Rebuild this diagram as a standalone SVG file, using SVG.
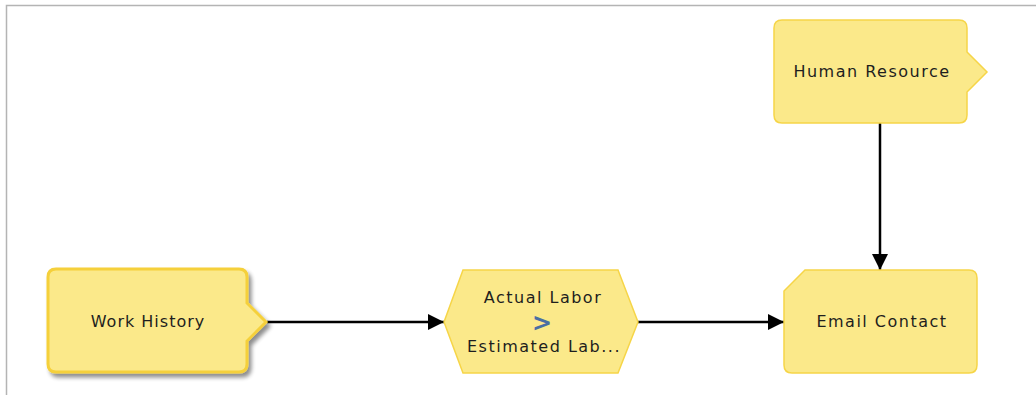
<svg xmlns="http://www.w3.org/2000/svg" width="1036" height="395" viewBox="0 0 1036 395">
<style>
.node{fill:#fbe98a;stroke:#f6d548;stroke-width:1.5}
.sel{stroke-width:3;stroke:#f5d03a}
.lbl{font-family:"DejaVu Sans",Verdana,sans-serif;font-size:16px;letter-spacing:1.5px;fill:#1e1e1e;text-anchor:middle}
.conn{stroke:#000;stroke-width:2.5;fill:none}
</style>
<defs>
<marker id="ah" viewBox="0 0 10 10" refX="10" refY="5" markerWidth="6.5" markerHeight="6.5" orient="auto" markerUnits="strokeWidth">
<path d="M0,0 L10,5 L0,10 z" fill="#000"/>
</marker>
<filter id="sh" x="-10%" y="-10%" width="130%" height="130%">
<feGaussianBlur in="SourceAlpha" stdDeviation="2"/>
<feOffset dx="3" dy="4" result="b"/>
<feComponentTransfer><feFuncA type="linear" slope="0.45"/></feComponentTransfer>
<feMerge><feMergeNode/><feMergeNode in="SourceGraphic"/></feMerge>
</filter>
</defs>
<rect x="0" y="0" width="1036" height="395" fill="#fff"/>
<path d="M6.5,395 V5.5 H1036" fill="none" stroke="#b4b4b4" stroke-width="1.5"/>
<g id="connectors">
<line class="conn" x1="267" y1="322" x2="444" y2="322" marker-end="url(#ah)"/>
<line class="conn" x1="638" y1="322" x2="784" y2="322" marker-end="url(#ah)"/>
<line class="conn" x1="880" y1="123" x2="880" y2="270" marker-end="url(#ah)"/>
</g>
<g id="work-history">
<path class="node sel" filter="url(#sh)" d="M56,269 H239 Q247,269 247,277 V303 L266,322 L247,341 V364 Q247,372 239,372 H56 Q48,372 48,364 V277 Q48,269 56,269 Z"/>
<text class="lbl" x="148" y="327" style="letter-spacing:1px">Work History</text>
</g>
<g id="labor-check">
<path class="node" d="M463,270 H618 L638,322 L618,373 H463 L444,322 Z"/>
<text class="lbl" x="543" y="303">Actual Labor</text>
<text x="542" y="331" font-family="DejaVu Sans,sans-serif" font-size="24" font-weight="bold" fill="#4a6fa3" text-anchor="middle">&gt;</text>
<text class="lbl" x="544" y="352">Estimated Lab...</text>
</g>
<g id="email-contact">
<path class="node" d="M805,270 H969 Q977,270 977,278 V365 Q977,373 969,373 H792 Q784,373 784,365 V291 Z"/>
<text class="lbl" x="882" y="327">Email Contact</text>
</g>
<g id="human-resource">
<path class="node" d="M782,20 H959 Q967,20 967,28 V52 L987,72 L967,92 V115 Q967,123 959,123 H782 Q774,123 774,115 V28 Q774,20 782,20 Z"/>
<text class="lbl" x="872" y="77">Human Resource</text>
</g>
</svg>
